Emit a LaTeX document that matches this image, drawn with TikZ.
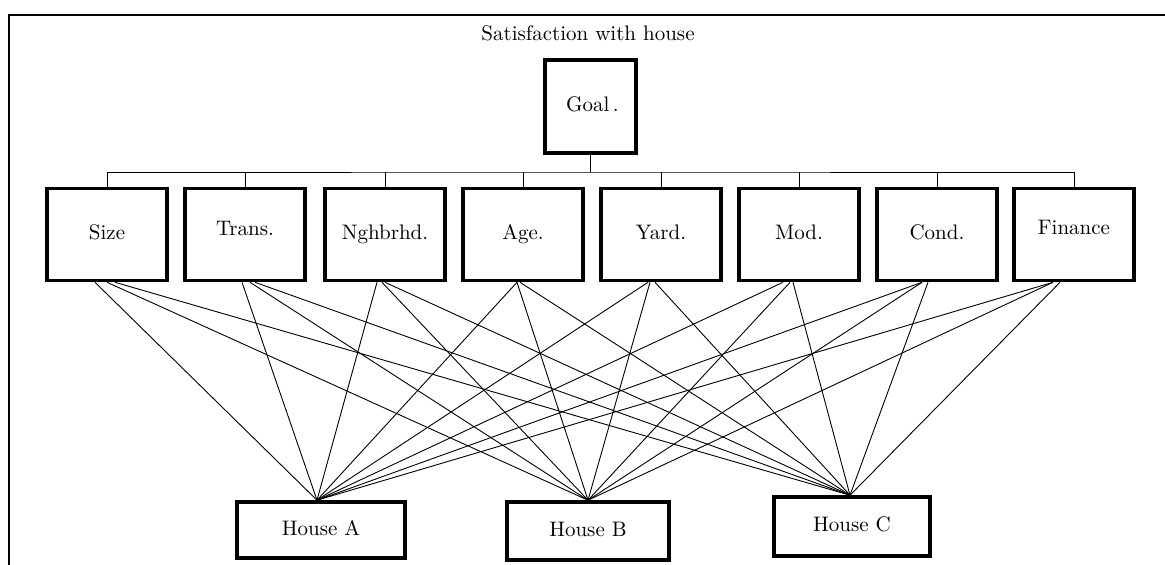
\documentclass[tikz,border=0pt]{standalone}
\usepackage{fontspec}
\usepackage{graphicx}
\usetikzlibrary{calc}
% 10pt design size, enlarged, slightly letter-spaced
\newcommand{\bigtxt}[1]{\scalebox{2.1}{\fontsize{10}{12}\selectfont\addfontfeatures{LetterSpace=5}#1}}
\tikzset{
  heavy/.style={draw, line width=3.6pt, inner sep=0pt},
  crit/.style={heavy, minimum width=120pt, minimum height=92pt, text height=14pt, text depth=4pt},
  house/.style={heavy, text height=14pt, text depth=4pt},
  link/.style={line width=0.9pt},
  frame/.style={line width=1.6pt},
}
\begin{document}
\begin{tikzpicture}[x=1pt,y=-1pt]
\useasboundingbox (0,0) rectangle (1165,565);

% outer frame (runs off the right and bottom edges)
\draw[frame] (9,565) -- (9,15) -- (1165,15);

% title and goal
\node (title) at (588,33) {\bigtxt{Satisfaction with house}};
\node[heavy, minimum width=91pt, minimum height=93pt, text height=14pt, text depth=4pt]
  (goal) at (590.5,106.5) {\hspace{4pt}\bigtxt{Goal\,.}};

% criteria
\node[crit] (s1) at (107,234.5)  {\bigtxt{Size}};
\node[crit] (s2) at (245,234.5)  {\raisebox{4pt}{\bigtxt{Trans.}}};
\node[crit] (s3) at (385,234.5)  {\bigtxt{Nghbrhd.}};
\node[crit] (s4) at (523,234.5)  {\bigtxt{Age.}};
\node[crit] (s5) at (661,234.5)  {\bigtxt{Yard.}};
\node[crit] (s6) at (799,234.5)  {\bigtxt{Mod.}};
\node[crit] (s7) at (937,234.5)  {\bigtxt{Cond.}};
\node[crit] (s8) at (1074,234.5) {\raisebox{5pt}{\bigtxt{Finance}}};

% alternatives
\node[house, minimum width=168pt, minimum height=56pt] (hA) at (321,530)   {\bigtxt{House A}};
\node[house, minimum width=162pt, minimum height=58pt] (hB) at (588,531)   {\bigtxt{House B}};
\node[house, minimum width=156pt, minimum height=59pt] (hC) at (852,526.5) {\bigtxt{House C}};

% tree from the goal to the criteria
\coordinate (bus) at (590.5,172);
\draw[link] (goal.south) -- (bus);
\draw[link] (s1.north) |- (bus) -| (s8.north);
\foreach \c in {s2,s3,s4,s5,s6,s7}
  \draw[link] (\c.north) -- (\c.north |- bus);

% every criterion to every house
\foreach \c/\a/\b/\cc in {s1/-12/0/8, s2/-3/5/10, s3/-8/-3/0, s4/-6/-6/-3,
                          s5/-13/-11/-6, s6/-16/-9/-6, s7/-15/-15/-9, s8/-21/-21/-14} {
  \draw[link] ([xshift=\a pt]\c.south) -- ([xshift=-4pt]hA.north);
  \draw[link] ([xshift=\b pt]\c.south) -- (hB.north);
  \draw[link] ([xshift=\cc pt]\c.south) -- ([xshift=-2pt]hC.north);
}
\end{tikzpicture}
\end{document}
